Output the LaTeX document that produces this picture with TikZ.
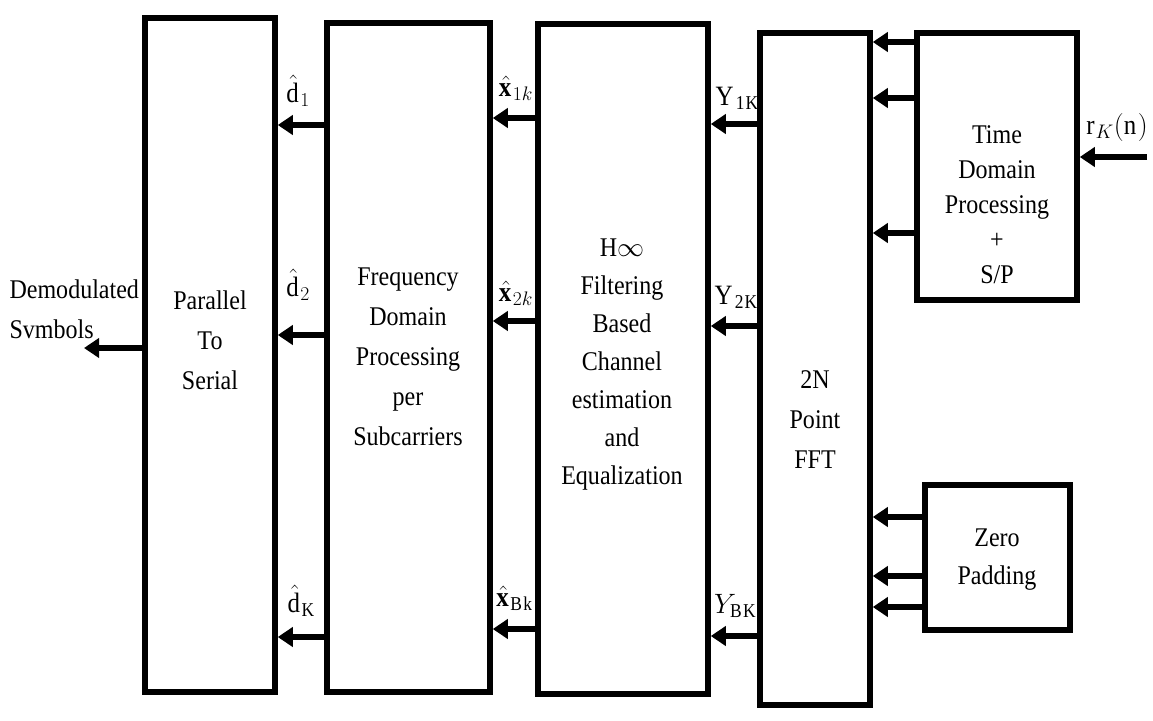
\documentclass[tikz,border=0pt]{standalone}
\usepackage{fix-cm}
\usepackage{fontspec}
\setmainfont{Liberation Serif}[FakeStretch=0.89]
\usetikzlibrary{arrows.meta}
\begin{document}
\begin{tikzpicture}[x=1pt,y=-1pt,
  box/.style={draw,line width=5.5pt,inner sep=0pt},
  arr/.style={line width=6pt,-{Triangle[length=15pt,width=19pt]}},
  txt/.style={align=center,font=\fontsize{27}{40}\selectfont},
  lab/.style={inner sep=0pt,font=\fontsize{28}{30}\selectfont}]
\useasboundingbox (0,0) rectangle (1153,720);
% boxes
\node[box,minimum width=130,minimum height=674] (b1) at (210,355) {};
\node[box,minimum width=163,minimum height=669] (b2) at (408.5,357.5) {};
\node[box,minimum width=170,minimum height=670] (b3) at (623,359) {};
\node[box,minimum width=110,minimum height=672] (b4) at (815,369) {};
\node[box,minimum width=160,minimum height=267] (b5) at (997,166.5) {};
\node[box,minimum width=145,minimum height=145] (b6) at (997.5,557.5) {};
% texts
\node[txt] (t1) at (210,340) {Parallel\\To\\Serial};
\node[txt] (t2) at (408,357) {Frequency\\Domain\\Processing\\per\\Subcarriers};
\node[txt,font=\fontsize{27}{38}\selectfont] (t3) at (622,365) {H$\infty$\\Filtering\\Based\\Channel\\estimation\\and\\Equalization};
\node[txt] (t4) at (815,420) {2N\\Point\\FFT};
\node[txt,font=\fontsize{27}{35}\selectfont] (t5) at (997,205) {Time\\Domain\\Processing\\+\\S/P};
\node[txt,font=\fontsize{27}{38}\selectfont] (t6) at (997,560) {Zero\\Padding};
\node[txt,align=left,anchor=north west] (out) at (6,276) {Demodulated\\Svmbols};
% coordinates for free ends
\coordinate (inp) at (1147,157);
\coordinate (outp) at (84,348);
% arrows b2 -> b1
\draw[arr] (b2.west |- 0,125) -- (b1.east |- 0,125);
\draw[arr] (b2.west |- 0,335) -- (b1.east |- 0,335);
\draw[arr] (b2.west |- 0,637) -- (b1.east |- 0,637);
% arrows b3 -> b2
\draw[arr] (b3.west |- 0,118) -- (b2.east |- 0,118);
\draw[arr] (b3.west |- 0,321) -- (b2.east |- 0,321);
\draw[arr] (b3.west |- 0,629) -- (b2.east |- 0,629);
% arrows b4 -> b3
\draw[arr] (b4.west |- 0,124) -- (b3.east |- 0,124);
\draw[arr] (b4.west |- 0,326) -- (b3.east |- 0,326);
\draw[arr] (b4.west |- 0,636) -- (b3.east |- 0,636);
% arrows b5 -> b4
\draw[arr] (b5.west |- 0,42) -- (b4.east |- 0,42);
\draw[arr] (b5.west |- 0,98) -- (b4.east |- 0,98);
\draw[arr] (b5.west |- 0,233) -- (b4.east |- 0,233);
% arrows b6 -> b4
\draw[arr] (b6.west |- 0,517) -- (b4.east |- 0,517);
\draw[arr] (b6.west |- 0,576) -- (b4.east |- 0,576);
\draw[arr] (b6.west |- 0,607) -- (b4.east |- 0,607);
% input / output
\draw[arr] (inp) -- (b5.east |- inp);
\draw[arr] (b1.west |- outp) -- (outp);
% labels
\node[lab] (l1) at (298,91) {$\hat{\mathrm{d}}_1$};
\node[lab] (l2) at (298,285) {$\hat{\mathrm{d}}_2$};
\node[lab] (l3) at (302,601) {$\hat{\mathrm{d}}_{\mathrm{K}}$};
\node[lab] (l4) at (516,88) {$\hat{\mathbf{x}}_{1k}$};
\node[lab] (l5) at (516,293) {$\hat{\mathbf{x}}_{2k}$};
\node[lab] (l6) at (515,598) {$\hat{\mathbf{x}}_{\mathrm{Bk}}$};
\node[lab] (l7) at (738,98) {$\mathrm{Y}_{\mathrm{1K}}$};
\node[lab] (l8) at (737,297) {$\mathrm{Y}_{\mathrm{2K}}$};
\node[lab] (l9) at (736,606) {$Y_{\mathrm{BK}}$};
\node[lab] (l10) at (1117,127) {$\mathrm{r}_{K}(\mathrm{n})$};
\end{tikzpicture}
\end{document}
